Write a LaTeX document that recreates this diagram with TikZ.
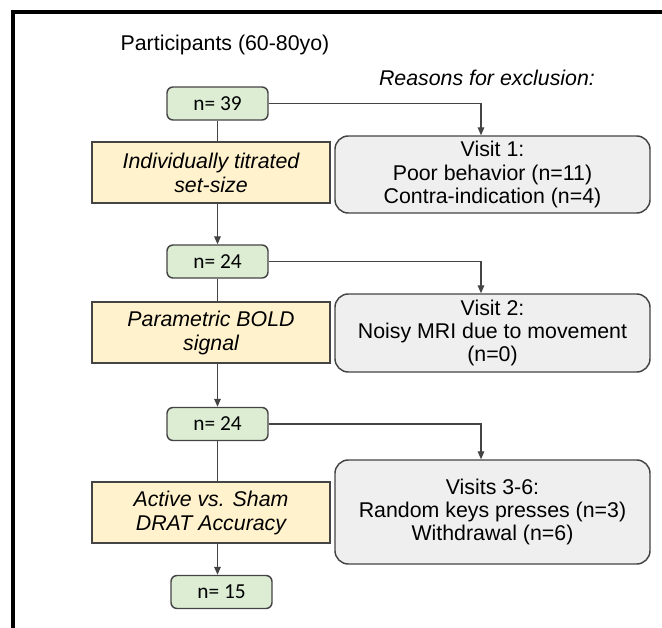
\documentclass[tikz,border=0pt]{standalone}
\usepackage{fontspec}
\setmainfont{Liberation Sans}
\newfontfamily\countfont{Carlito}
\usetikzlibrary{arrows.meta,calc}

\definecolor{countgreen}{RGB}{220,237,212}
\definecolor{stepyellow}{RGB}{255,242,204}
\definecolor{reasongray}{RGB}{239,239,239}
\definecolor{edgegray}{RGB}{68,68,68}

\tikzset{
  countbox/.style={draw=edgegray, line width=1.1pt, fill=countgreen, rounded corners=4.5pt,
    minimum width=75.75pt, minimum height=24.75pt, inner sep=0pt,
    font=\countfont\fontsize{16}{19}\selectfont},
  stepbox/.style={draw=edgegray, line width=1.1pt, fill=stepyellow,
    minimum width=178.5pt, minimum height=45.75pt, inner sep=0pt, align=center,
    font=\itshape\fontsize{16}{18}\selectfont},
  reasonbox/.style={draw=edgegray, line width=1.1pt, fill=reasongray, rounded corners=10pt,
    minimum width=236.25pt, inner sep=0pt, align=center,
    font=\fontsize{16}{17.5}\selectfont},
  plaintext/.style={inner sep=0pt, font=\fontsize{16}{19}\selectfont},
  conn/.style={draw=edgegray, line width=0.8pt},
  flow/.style={conn, -{Triangle[length=6pt,width=5pt]}}
}

\begin{document}
\begin{tikzpicture}[x=0.75pt, y=-0.75pt]
  %% Page size of the reference, in pixels.
  \useasboundingbox (0,0) rectangle (662,628);
  %% Column of the count boxes and of the step boxes.
  \def\countX{217.5}
  \def\stepX{211}
  %% Column of the reason boxes.
  \def\reasonX{492.5}
  %% Where the side arrows drop into the reason boxes.
  \def\dropshift{-11.5}

  %% Frame round the figure (only top and left show).
  \draw[line width=3pt] (13,628) -- (13,12) -- (662,12);

  %% Headings.
  \node[plaintext] (title) at (225,45) {Participants (60-80yo)};
  \node[plaintext, font=\itshape\fontsize{16}{19}\selectfont] (reasons) at (487,78) {Reasons for exclusion:};

  %% Counts of participants left.
  \node[countbox] (n39) at (\countX,103.5) {n= 39};
  \node[countbox] (n24a) at (\countX,261.5) {n= 24};
  \node[countbox] (n24b) at (\countX,424) {n= 24};
  \node[countbox] (n15) at (\countX+4,592) {n= 15};

  %% Measures at each step.
  \node[stepbox] (titrate) at (\stepX,172.5) {Individually titrated\\set-size};
  \node[stepbox] (bold) at (\stepX,332.5) {Parametric BOLD\\signal};
  \node[stepbox] (drat) at (\stepX,512.5) {Active vs. Sham\\DRAT Accuracy};

  %% Reasons for exclusion.
  \node[reasonbox, minimum height=57.75pt] (visit1) at (\reasonX,174.5)
    {Visit 1:\\Poor behavior (n=11)\\Contra-indication (n=4)};
  \node[reasonbox, minimum height=58.5pt] (visit2) at (\reasonX,333)
    {Visit 2:\\Noisy MRI due to movement\\(n=0)};
  \node[reasonbox, minimum height=78pt] (visit3) at (\reasonX,512)
    {Visits 3-6:\\Random keys presses (n=3)\\Withdrawal (n=6)};

  %% Main line down through the steps.
  \draw[conn] (n39.south) -- (n39.south |- titrate.north);
  \draw[flow] (n39.south |- titrate.south) -- (n24a.north);
  \draw[conn] (n24a.south) -- (n24a.south |- bold.north);
  \draw[flow] (n24a.south |- bold.south) -- (n24b.north);
  \draw[conn] (n24b.south) -- (n24b.south |- drat.north);
  \draw[flow] (n24b.south |- drat.south) -- (n24b.south |- n15.north);

  %% Side arrows to the exclusions.
  \draw[flow] (n39.east) -| ($(visit1.north)+(\dropshift,0)$);
  \draw[flow] (n24a.east) -| ($(visit2.north)+(\dropshift,0)$);
  \draw[flow] (n24b.east) -| ($(visit3.north)+(\dropshift,0)$);
\end{tikzpicture}
\end{document}
